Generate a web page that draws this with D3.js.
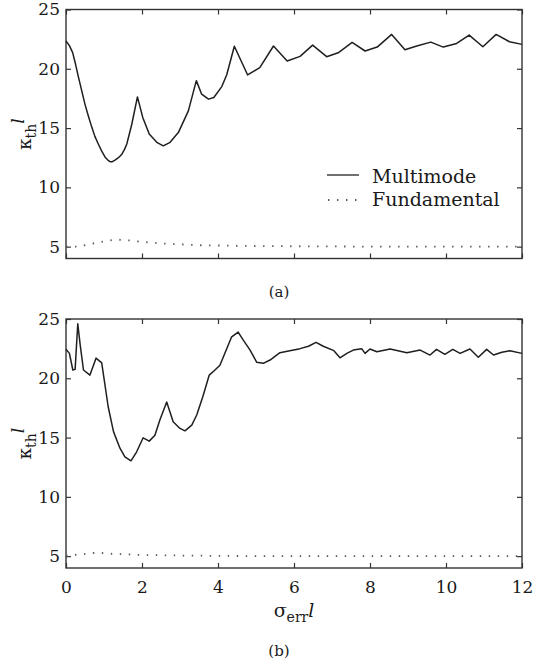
<!DOCTYPE html>
<html>
<head>
<meta charset="utf-8">
<script src="https://cdn.jsdelivr.net/npm/d3@7"></script>
<style>
  body { margin: 0; background: #fff; }
  svg { display: block; }
  text { font-family: "DejaVu Serif", "Liberation Serif", serif; fill: #1a1a1a; }
</style>
</head>
<body>
<svg id="chart" width="543" height="661"></svg>
<script>
// ---------- data ----------
const xTicks = [0, 2, 4, 6, 8, 10, 12];
const yTicks = [5, 10, 15, 20, 25];
const seriesNames = ["Multimode", "Fundamental"];

// panel (a)
const aMultiX = [0, 0.09, 0.175, 0.25, 0.32, 0.41, 0.5, 0.59, 0.68, 0.76, 0.85, 0.94, 1.03, 1.1, 1.16, 1.22, 1.29, 1.38, 1.47, 1.54, 1.6, 1.73, 1.88, 2.02, 2.19, 2.39, 2.56, 2.74, 2.96, 3.22, 3.43, 3.57, 3.75, 3.89, 4.1, 4.23, 4.43, 4.78, 5.1, 5.46, 5.82, 6.16, 6.49, 6.86, 7.18, 7.53, 7.87, 8.19, 8.57, 8.92, 9.23, 9.6, 9.93, 10.28, 10.61, 10.97, 11.32, 11.67, 12.0];
const aMultiY = [22.34, 21.95, 21.36, 20.4, 19.4, 18.2, 17.0, 16.0, 15.06, 14.3, 13.66, 13.05, 12.54, 12.3, 12.17, 12.17, 12.3, 12.5, 12.8, 13.2, 13.66, 15.3, 17.63, 15.9, 14.5, 13.8, 13.5, 13.8, 14.64, 16.45, 19.0, 17.86, 17.44, 17.58, 18.5, 19.5, 21.9, 19.48, 20.1, 21.92, 20.66, 21.05, 22.0, 21.02, 21.38, 22.22, 21.5, 21.83, 22.9, 21.6, 21.92, 22.25, 21.83, 22.14, 22.84, 21.86, 22.9, 22.28, 22.06];
const aFundX = [0, 0.3, 0.6, 1.0, 1.3, 1.6, 2.0, 2.6, 3.5, 5, 8, 12];
const aFundY = [5.0, 5.0, 5.2, 5.45, 5.6, 5.55, 5.4, 5.25, 5.12, 5.05, 5.0, 5.0];

// panel (b)
const bMultiX = [0, 0.09, 0.18, 0.24, 0.31, 0.37, 0.46, 0.63, 0.79, 0.94, 1.11, 1.25, 1.42, 1.55, 1.71, 1.86, 2.03, 2.19, 2.34, 2.47, 2.65, 2.82, 3.0, 3.13, 3.31, 3.44, 3.6, 3.77, 3.92, 4.05, 4.14, 4.36, 4.53, 4.67, 4.84, 5.02, 5.19, 5.37, 5.63, 5.89, 6.16, 6.38, 6.58, 6.77, 7.05, 7.21, 7.39, 7.56, 7.78, 7.87, 8.0, 8.18, 8.53, 8.97, 9.32, 9.58, 9.75, 9.97, 10.18, 10.37, 10.63, 10.85, 11.07, 11.25, 11.47, 11.68, 12.0];
const bMultiY = [22.44, 22.1, 20.7, 20.75, 24.6, 22.9, 20.7, 20.27, 21.7, 21.3, 17.6, 15.5, 14.1, 13.38, 13.04, 13.8, 14.98, 14.7, 15.2, 16.48, 18.0, 16.33, 15.77, 15.57, 16.05, 16.9, 18.44, 20.27, 20.7, 21.1, 21.8, 23.5, 23.9, 23.2, 22.4, 21.35, 21.26, 21.54, 22.16, 22.33, 22.5, 22.7, 23.03, 22.7, 22.33, 21.73, 22.1, 22.38, 22.5, 22.1, 22.47, 22.24, 22.47, 22.16, 22.38, 21.96, 22.44, 22.02, 22.44, 22.1, 22.47, 21.77, 22.44, 21.96, 22.19, 22.33, 22.1];
const bFundX = [0, 0.4, 0.8, 1.2, 2, 3, 5, 12];
const bFundY = [5.05, 5.15, 5.3, 5.2, 5.1, 5.05, 5.0, 5.0];

// ---------- drawing ----------
const svg = d3.select("#chart");
const X0 = 66, X1 = 522;
const x = d3.scaleLinear().domain([0, 12]).range([X0, X1]);

function panel(top, bottom, multiX, multiY, fundX, fundY, showXLabels, tag, tagY, legend) {
  const y = d3.scaleLinear().domain([4, 25]).range([bottom, top]);
  const g = svg.append("g");

  g.append("g").attr("transform", `translate(0,${bottom})`)
    .call(d3.axisBottom(x).tickValues(xTicks).tickSizeInner(-5).tickSizeOuter(0).tickPadding(13)
      .tickFormat(showXLabels ? d3.format("d") : () => ""));
  g.append("g").attr("transform", `translate(0,${top})`)
    .call(d3.axisTop(x).tickValues(xTicks).tickSizeInner(-5).tickSizeOuter(0).tickFormat(() => ""));
  g.append("g").attr("transform", `translate(${X0},0)`)
    .call(d3.axisLeft(y).tickValues(yTicks).tickSizeInner(-5).tickSizeOuter(0).tickPadding(6).tickFormat(d3.format("d")));
  g.append("g").attr("transform", `translate(${X1},0)`)
    .call(d3.axisRight(y).tickValues(yTicks).tickSizeInner(-5).tickSizeOuter(0).tickFormat(() => ""));
  g.selectAll(".domain").remove();
  g.selectAll(".tick line").attr("stroke", "#333").attr("stroke-width", 1.2);
  g.selectAll(".tick text").attr("font-family", "DejaVu Serif").attr("font-size", 17).attr("fill", "#1a1a1a");

  g.append("rect").attr("x", X0).attr("y", top).attr("width", X1 - X0).attr("height", bottom - top)
    .attr("fill", "none").attr("stroke", "#333").attr("stroke-width", 1.4);

  const line = d3.line().x(d => x(d[0])).y(d => y(d[1]));
  g.append("path").datum(fundX.map((v, i) => [v, fundY[i]]))
    .attr("d", line).attr("fill", "none").attr("stroke", "#555").attr("stroke-width", 1.8)
    .attr("stroke-dasharray", "1.4,7.6");
  g.append("path").datum(multiX.map((v, i) => [v, multiY[i]]))
    .attr("d", line).attr("fill", "none").attr("stroke", "#1f1f1f").attr("stroke-width", 1.5)
    .attr("stroke-linejoin", "round");

  const cy = (top + bottom) / 2;
  const yl = g.append("text").attr("transform", `translate(31,${cy}) rotate(-90)`)
    .attr("text-anchor", "middle").attr("font-size", 18);
  yl.append("tspan").text("κ");
  yl.append("tspan").attr("dy", 5).attr("font-size", 14).text("th");
  yl.append("tspan").attr("dy", -12).attr("font-style", "italic").attr("font-size", 17).text("l");

  g.append("text").attr("x", 279).attr("y", tagY).attr("text-anchor", "middle")
    .attr("font-size", 15).text(tag);

  if (legend) {
    const lg = g.append("g");
    lg.append("line").attr("x1", 327).attr("x2", 359).attr("y1", 175).attr("y2", 175)
      .attr("stroke", "#222").attr("stroke-width", 1.3);
    lg.append("line").attr("x1", 328).attr("x2", 359).attr("y1", 200).attr("y2", 200)
      .attr("stroke", "#555").attr("stroke-width", 1.8).attr("stroke-dasharray", "1.4,7.6");
    lg.append("text").attr("x", 372).attr("y", 183).attr("font-size", 19).text(seriesNames[0]);
    lg.append("text").attr("x", 372).attr("y", 206).attr("font-size", 19).text(seriesNames[1]);
  }
}

panel(9.5, 258.5, aMultiX, aMultiY, aFundX, aFundY, false, "(a)", 297, true);
panel(319, 568, bMultiX, bMultiY, bFundX, bFundY, true, "(b)", 656, false);

const xl = svg.append("text").attr("x", 294).attr("y", 617).attr("text-anchor", "middle").attr("font-size", 19);
xl.append("tspan").text("σ");
xl.append("tspan").attr("dy", 5).attr("font-size", 14).text("err");
xl.append("tspan").attr("dy", -5).attr("font-style", "italic").attr("font-size", 19).text("l");
</script>
</body>
</html>
